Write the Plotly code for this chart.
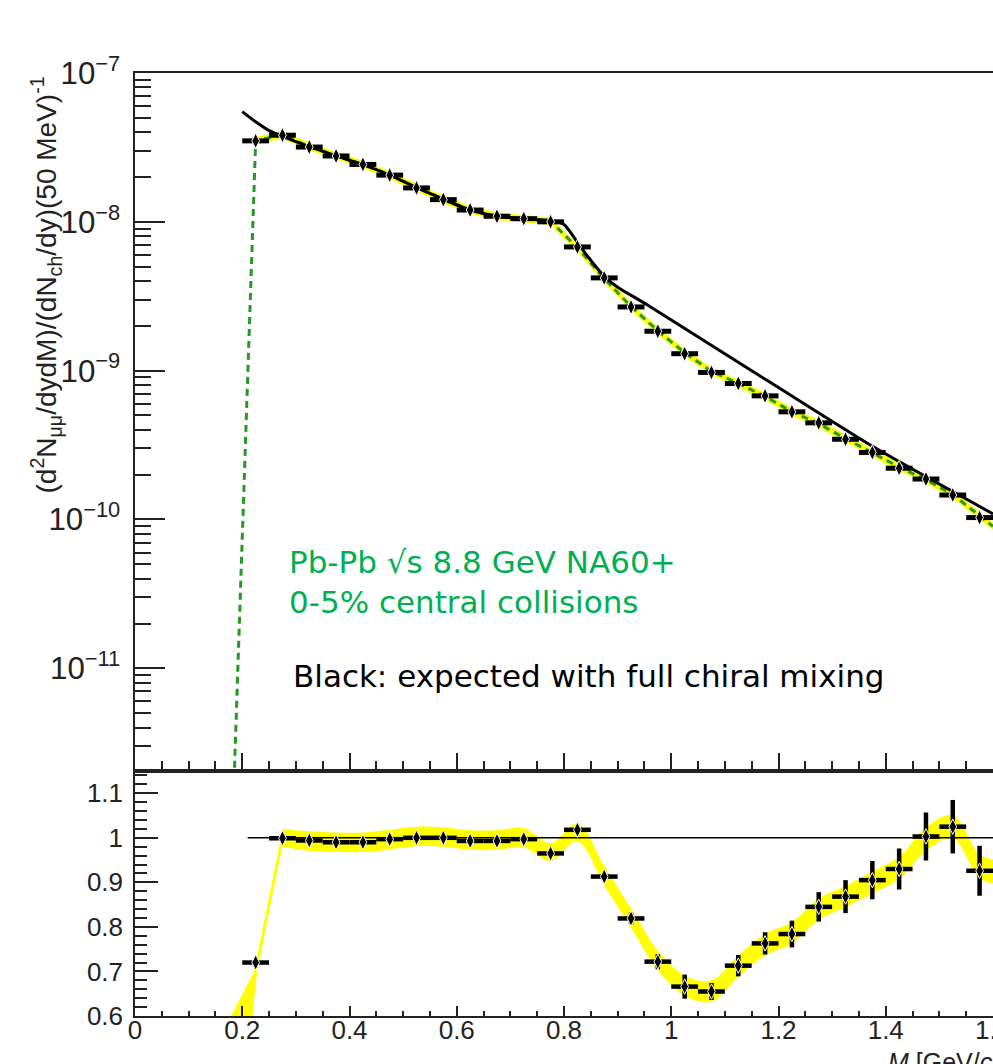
import plotly.graph_objects as go

# ---------------- data ----------------
bin_x = [0.225, 0.275, 0.325, 0.375, 0.425, 0.475, 0.525, 0.575, 0.625, 0.675,
         0.725, 0.775, 0.825, 0.875, 0.925, 0.975, 1.025, 1.075, 1.125, 1.175,
         1.225, 1.275, 1.325, 1.375, 1.425, 1.475, 1.525, 1.575]
bin_halfwidth = 0.025

spec_y = [3.50e-8, 3.82e-8, 3.18e-8, 2.77e-8, 2.43e-8, 2.06e-8, 1.69e-8, 1.41e-8,
          1.20e-8, 1.09e-8, 1.05e-8, 1.00e-8, 6.78e-9, 4.20e-9, 2.68e-9, 1.84e-9,
          1.30e-9, 9.73e-10, 8.20e-10, 6.77e-10, 5.29e-10, 4.46e-10, 3.46e-10,
          2.82e-10, 2.21e-10, 1.87e-10, 1.46e-10, 1.03e-10]

model_x = [0.175, 0.225, 0.275, 0.325, 0.375, 0.425, 0.475, 0.525, 0.575, 0.625,
           0.675, 0.725, 0.775, 0.825, 0.875, 0.925, 0.975, 1.025, 1.075, 1.125,
           1.175, 1.225, 1.275, 1.325, 1.375, 1.425, 1.475, 1.525, 1.575, 1.6]
model_y = [1.6e-13, 3.50e-8, 3.85e-8, 3.20e-8, 2.78e-8, 2.43e-8, 2.06e-8, 1.70e-8,
           1.41e-8, 1.20e-8, 1.09e-8, 1.05e-8, 1.01e-8, 6.70e-9, 4.15e-9, 2.70e-9,
           1.85e-9, 1.32e-9, 9.9e-10, 8.2e-10, 6.7e-10, 5.3e-10, 4.4e-10, 3.5e-10,
           2.8e-10, 2.25e-10, 1.85e-10, 1.47e-10, 1.06e-10, 9.0e-11]
model_rel_err = 0.06

chiral_x = [0.20, 0.225, 0.25, 0.275, 0.325, 0.375, 0.425, 0.475, 0.525, 0.575, 0.625,
            0.675, 0.725, 0.775, 0.80, 0.825, 0.845, 0.878, 0.90, 0.955, 1.197, 1.376, 1.60]
chiral_y = [5.5e-8, 4.7e-8, 4.1e-8, 3.75e-8, 3.2e-8, 2.78e-8, 2.42e-8, 2.06e-8, 1.70e-8,
            1.42e-8, 1.20e-8, 1.09e-8, 1.05e-8, 1.02e-8, 9.6e-9, 7.3e-9, 5.8e-9, 4.2e-9,
            3.64e-9, 2.77e-9, 7.82e-10, 3.09e-10, 1.09e-10]

ratio_y = [0.720, 0.999, 0.994, 0.990, 0.990, 0.997, 1.000, 1.000, 0.993, 0.993,
           0.997, 0.965, 1.018, 0.913, 0.819, 0.722, 0.666, 0.655, 0.713, 0.763,
           0.784, 0.845, 0.868, 0.905, 0.930, 1.003, 1.025, 0.926]
ratio_err = [0.004, 0.004, 0.004, 0.004, 0.004, 0.004, 0.004, 0.004, 0.004, 0.004,
             0.004, 0.005, 0.006, 0.008, 0.013, 0.017, 0.027, 0.019, 0.024, 0.025,
             0.030, 0.033, 0.037, 0.043, 0.046, 0.054, 0.060, 0.056]

# ratio band: steep rising part (linear) and smooth part
band_rise_x = [0.175, 0.225, 0.275]
band_rise_hi = [0.59, 0.706, 1.003]
band_rise_lo = [-0.21, 0.694, 0.997]

band_x = [0.275, 0.325, 0.375, 0.425, 0.475, 0.525, 0.575, 0.625, 0.675, 0.725,
          0.775, 0.825, 0.875, 0.925, 0.975, 1.025, 1.075, 1.125, 1.175, 1.225,
          1.275, 1.325, 1.375, 1.425, 1.475, 1.525, 1.575, 1.6]
band_c = [1.000, 0.993, 0.990, 0.990, 0.996, 1.003, 1.002, 0.995, 0.995, 1.000,
          0.968, 1.012, 0.915, 0.820, 0.725, 0.668, 0.656, 0.712, 0.760, 0.787,
          0.840, 0.868, 0.900, 0.932, 0.997, 1.025, 0.935, 0.925]
band_hw = [0.020, 0.022, 0.022, 0.022, 0.022, 0.022, 0.022, 0.022, 0.022, 0.022,
           0.020, 0.020, 0.022, 0.022, 0.022, 0.023, 0.024, 0.024, 0.024, 0.024,
           0.024, 0.024, 0.025, 0.025, 0.026, 0.026, 0.027, 0.027]

unity_x = [0.21, 1.6]
unity_y = [1.0, 1.0]

# ---------------- styles ----------------
YELLOW = "#ffff00"
GREEN_LINE = "#239b23"
TEXT_GREEN = "#00b050"
AX = "#222222"
FONT = "Liberation Sans, Arial, sans-serif"

fig = go.Figure()

# upper panel
fig.add_trace(go.Scatter(x=model_x[1:], y=[v * (1 + model_rel_err) for v in model_y[1:]],
                         mode="lines", line=dict(width=0, color=YELLOW),
                         xaxis="x", yaxis="y", hoverinfo="skip"))
fig.add_trace(go.Scatter(x=model_x[1:], y=[v / (1 + model_rel_err) for v in model_y[1:]],
                         mode="lines", line=dict(width=0, color=YELLOW),
                         fill="tonexty", fillcolor=YELLOW,
                         xaxis="x", yaxis="y", hoverinfo="skip"))
fig.add_trace(go.Scatter(x=model_x, y=model_y, mode="lines",
                         line=dict(color=GREEN_LINE, width=3, dash="7px,5px"),
                         xaxis="x", yaxis="y"))
fig.add_trace(go.Scatter(x=chiral_x, y=chiral_y, mode="lines",
                         line=dict(color="black", width=3, shape="spline", smoothing=0.6),
                         xaxis="x", yaxis="y"))
fig.add_trace(go.Scatter(x=bin_x, y=spec_y, mode="markers",
                         marker=dict(symbol="diamond-tall", size=11, color="black",
                                     line=dict(color="white", width=1)),
                         error_x=dict(type="constant", value=bin_halfwidth,
                                      thickness=5, width=0, color="black"),
                         xaxis="x", yaxis="y"))

# lower panel
fig.add_trace(go.Scatter(x=band_rise_x, y=band_rise_hi, mode="lines",
                         line=dict(width=0, color=YELLOW),
                         xaxis="x2", yaxis="y2", hoverinfo="skip"))
fig.add_trace(go.Scatter(x=band_rise_x, y=band_rise_lo, mode="lines",
                         line=dict(width=0, color=YELLOW), fill="tonexty",
                         fillcolor=YELLOW, xaxis="x2", yaxis="y2", hoverinfo="skip"))
fig.add_trace(go.Scatter(x=band_rise_x, y=[(a + b) / 2 for a, b in zip(band_rise_hi, band_rise_lo)],
                         mode="lines", line=dict(width=3, color=YELLOW),
                         xaxis="x2", yaxis="y2", hoverinfo="skip"))
fig.add_trace(go.Scatter(x=band_x, y=[c + h for c, h in zip(band_c, band_hw)],
                         mode="lines", line=dict(width=0, color=YELLOW, shape="spline"),
                         xaxis="x2", yaxis="y2", hoverinfo="skip"))
fig.add_trace(go.Scatter(x=band_x, y=[c - h for c, h in zip(band_c, band_hw)],
                         mode="lines", line=dict(width=0, color=YELLOW, shape="spline"),
                         fill="tonexty", fillcolor=YELLOW,
                         xaxis="x2", yaxis="y2", hoverinfo="skip"))
fig.add_trace(go.Scatter(x=unity_x, y=unity_y, mode="lines",
                         line=dict(color="black", width=1.5),
                         xaxis="x2", yaxis="y2"))
fig.add_trace(go.Scatter(x=bin_x, y=ratio_y, mode="markers",
                         marker=dict(symbol="diamond-tall", size=11, color="black",
                                     line=dict(color="white", width=1)),
                         error_x=dict(type="constant", value=bin_halfwidth,
                                      thickness=4.5, width=0, color="black"),
                         error_y=dict(type="data", array=ratio_err,
                                      thickness=4.5, width=0, color="black"),
                         xaxis="x2", yaxis="y2"))

# ---------------- layout ----------------
W, H = 993, 1064
ML, MR, MT, MB = 135, 0, 73, 48
PW, PH = W - ML - MR, H - MT - MB
split = (1016 - 771) / PH


def px(xp):
    return (xp - ML) / PW


def py(yp):
    return (H - MB - yp) / PH


common_x = dict(range=[0, 1.6], showgrid=False, zeroline=False, showline=True,
                linecolor=AX, linewidth=1.5, mirror=True, ticks="inside",
                tickcolor=AX, tickwidth=1.5, dtick=0.2, tick0=0, automargin=False)

fig.update_layout(
    width=W, height=H, autosize=False,
    margin=dict(l=ML, r=MR, t=MT, b=MB, pad=0, autoexpand=False),
    paper_bgcolor="white", plot_bgcolor="white",
    showlegend=False,
    font=dict(family=FONT, color=AX),
    xaxis=dict(common_x, domain=[0, 1], anchor="y", showticklabels=False, ticklen=18,
               minor=dict(ticks="inside", ticklen=10, dtick=0.05, tickcolor=AX,
                          tickwidth=1.5, showgrid=False)),
    yaxis=dict(domain=[split, 1], anchor="x", type="log", range=[-11.69, -7],
               dtick=1, exponentformat="power", showgrid=False, zeroline=False,
               showline=True, linecolor=AX, linewidth=1.5, ticks="inside",
               ticklen=30, tickcolor=AX, tickwidth=1.5, automargin=False,
               tickfont=dict(size=25, family=FONT, color=AX), ticklabelstandoff=8,
               minor=dict(ticks="inside", ticklen=16, dtick="D1", tickcolor=AX,
                          tickwidth=1.5, showgrid=False)),
    xaxis2=dict(common_x, domain=[0, 1], anchor="y2", showticklabels=True, ticklen=10,
                tickfont=dict(size=26, family=FONT, color=AX), ticklabelstandoff=-10,
                ticklabeloverflow="allow",
                minor=dict(ticks="inside", ticklen=5, dtick=0.05, tickcolor=AX,
                           tickwidth=1.5, showgrid=False)),
    yaxis2=dict(domain=[0, split], anchor="x2", range=[0.6, 1.15], dtick=0.1, tick0=0.6,
                showgrid=False, zeroline=False, showline=True, linecolor=AX,
                linewidth=1.5, ticks="inside", ticklen=23, tickcolor=AX, tickwidth=1.5,
                automargin=False,
                tickfont=dict(size=26, family=FONT, color=AX), ticklabelstandoff=5,
                minor=dict(ticks="inside", ticklen=12, dtick=0.02, tickcolor=AX,
                           tickwidth=1.5, showgrid=False)),
)

annos = [
    dict(text="(d<sup>2</sup>N<sub>μμ</sub>/dydM)/(dN<sub>ch</sub>/dy)(50 MeV)<sup>-1</sup>",
         x=px(46), y=py(75), xref="paper", yref="paper", xanchor="center", yanchor="top",
         textangle=-90, showarrow=False, font=dict(size=28, family=FONT, color=AX)),
    dict(text="Pb-Pb √s 8.8 GeV NA60+", x=px(287), y=py(562), xref="paper", yref="paper",
         xanchor="left", yanchor="middle", showarrow=False,
         font=dict(size=31, family="DejaVu Sans", color=TEXT_GREEN)),
    dict(text="0-5% central collisions", x=px(287), y=py(602), xref="paper", yref="paper",
         xanchor="left", yanchor="middle", showarrow=False,
         font=dict(size=31, family="DejaVu Sans", color=TEXT_GREEN)),
    dict(text="Black: expected with full chiral mixing", x=px(291), y=py(675.5),
         xref="paper", yref="paper", xanchor="left", yanchor="middle", showarrow=False,
         font=dict(size=31, family="DejaVu Sans", color="black")),
    dict(text="<i>M</i> [GeV/<i>c</i><sup>2</sup>]", x=px(886), y=py(1042), xref="paper",
         yref="paper", xanchor="left", yanchor="top", showarrow=False,
         font=dict(size=25, family=FONT, color=AX)),
]
fig.update_layout(annotations=annos)

fig.write_html("out.html")
